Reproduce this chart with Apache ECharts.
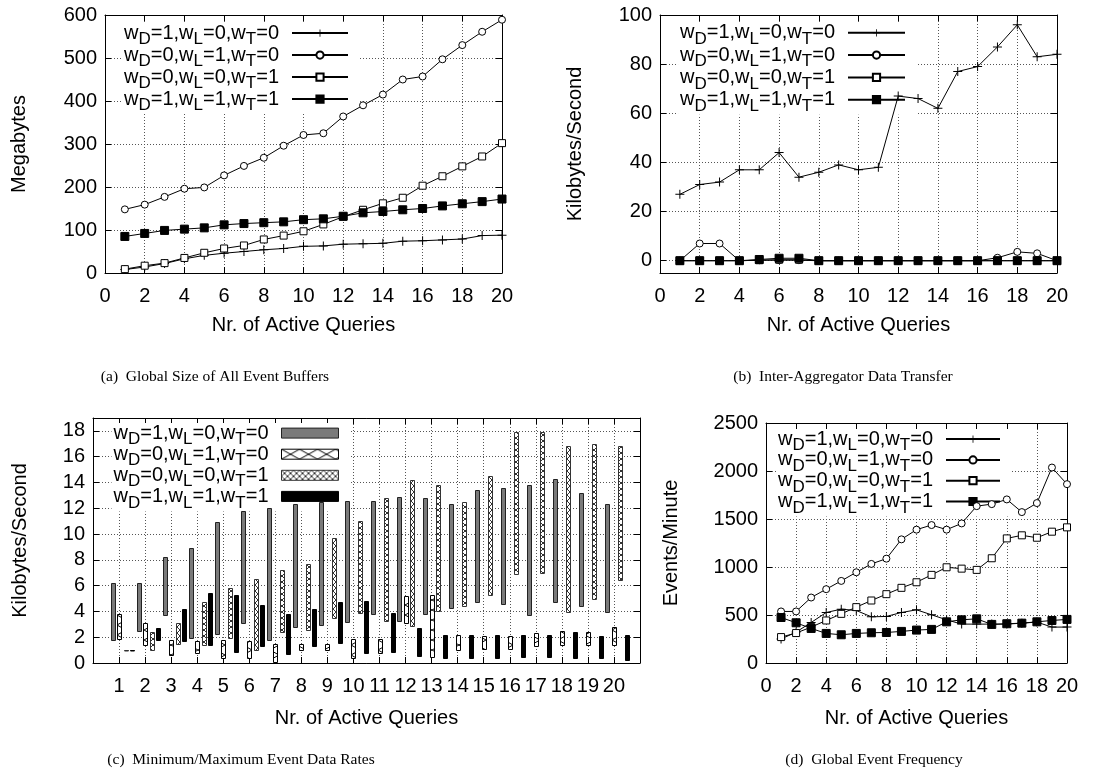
<!DOCTYPE html>
<html><head><meta charset="utf-8">
<script src="https://cdn.jsdelivr.net/npm/echarts@6/dist/echarts.min.js"></script>
<style>html,body{margin:0;padding:0;background:#fff}#c{width:1099px;height:774px}</style>
</head><body><div id="c"></div>
<script>
// ---------------- data ----------------
const queries = [1,2,3,4,5,6,7,8,9,10,11,12,13,14,15,16,17,18,19,20];
const legendWeights = [['1','0','0'],['0','1','0'],['0','0','1'],['1','1','1']];
const captions = ['(a)  Global Size of All Event Buffers','(b)  Inter-Aggregator Data Transfer','(c)  Minimum/Maximum Event Data Rates','(d)  Global Event Frequency'];
const yNames = ['Megabytes','Kilobytes/Second','Kilobytes/Second','Events/Minute'];
const xName = 'Nr. of Active Queries';
const xferTicks = [0,20,40,60,80,100];

// (a) Global size of all event buffers (MB)
const bufD  = [8,14,22,33,41,46,50,54,57,62,63,67,68,69,74,75,77,79,87,88];
const bufL  = [148,159,177,196,199,227,249,268,296,321,325,364,390,415,450,457,497,530,561,589];
const bufT  = [9,17,23,35,47,57,64,78,87,97,113,131,147,162,175,203,225,248,271,302];
const bufA  = [85,92,99,102,105,112,115,117,119,124,126,132,140,143,147,150,156,161,166,172];

// (b) Inter-aggregator data transfer (KB/s)
const xferD = [27,31,32,37,37,44,34,36,39,37,38,67,66,62,77,79,87,96,83,84];
const xferL = [0,7,7,0,0.2,0.2,0.2,0,0,0,0,0,0,0,0,0,1.2,3.6,3,0];
const xferT = [0,0,0,0,0.2,0.4,0.4,0,0,0,0,0,0,0,0,0,0,0,0,0];
const xferA = [0,0,0,0,0.5,1,1,0,0,0,0,0,0,0,0,0,0,0,0,0];

// (c) Min / max event data rates (KB/s)
const rateDmin = [1.8,2.5,3.7,1.9,2.2,3.1,1.8,2.8,3.0,3.2,3.8,3.3,3.8,4.2,4.7,4.6,3.7,4.8,4.4,3.9];
const rateDmax = [6.2,6.2,8.2,8.9,10.9,11.8,12.0,12.3,12.5,12.6,12.6,12.9,12.8,12.3,13.4,13.6,13.8,14.3,13.2,12.3];
const rateLmin = [1.9,1.4,0.6,0.8,0.4,0.4,0.1,1.0,1.0,0.4,0.8,3.1,0.5,1.0,1.1,1.1,1.3,1.4,1.4,1.4];
const rateLmax = [3.8,3.1,1.8,1.7,1.8,1.7,1.5,1.5,1.5,1.9,1.9,5.2,5.3,2.2,2.1,2.1,2.3,2.5,2.4,2.8];
const rateTmin = [1.0,1.0,1.5,1.4,1.9,1.0,2.4,2.6,3.5,3.9,3.3,2.9,4.0,4.4,5.3,6.9,7.0,3.9,5.0,6.4];
const rateTmax = [1.0,2.4,3.1,4.7,5.8,6.5,7.2,7.7,9.7,11.0,12.8,14.2,13.8,12.5,14.5,17.9,17.9,16.8,17.0,16.8];
const rateAmin = [1.0,1.8,1.7,1.4,0.9,1.3,0.7,1.3,1.5,0.8,0.9,0.5,0.4,0.4,0.4,0.5,0.5,0.4,0.4,0.3];
const rateAmax = [1.0,2.7,4.2,5.4,5.3,4.5,3.8,4.2,4.7,4.8,3.9,2.7,2.2,2.2,2.2,2.2,2.2,2.4,2.1,2.2];

// (d) Global event frequency (events/min)
const freqD = [249,322,422,526,561,547,481,485,526,554,502,450,405,405,405,405,415,426,374,374];
const freqL = [537,537,682,769,855,945,1032,1087,1288,1389,1437,1389,1454,1634,1655,1704,1572,1666,2036,1863];
const freqT = [270,312,374,443,512,582,651,717,783,841,918,997,983,970,1091,1298,1330,1305,1368,1413];
const freqA = [474,419,360,308,294,308,315,318,329,343,350,429,450,460,402,409,415,429,443,454];

// ---------------- styles ----------------
const SANS = 'Liberation Sans';
const SERIF = 'Liberation Serif';
const PLUS = 'path://M4,0H5V4H9V5H5V9H4V5H0V4H4Z';
const markerStyles = [
  {symbol: PLUS, symbolSize: 9, itemStyle: {color: '#000'}},
  {symbol: 'circle', symbolSize: 7, itemStyle: {color: '#fff', borderColor: '#000', borderWidth: 1}},
  {symbol: 'rect', symbolSize: 7, itemStyle: {color: '#fff', borderColor: '#000', borderWidth: 1}},
  {symbol: 'rect', symbolSize: 8, itemStyle: {color: '#000', borderColor: '#000', borderWidth: 1}}
];

function makePattern(kind) {
  const cv = document.createElement('canvas');
  if (kind === 'cross') { cv.width = 18; cv.height = 10; }
  else { cv.width = 6; cv.height = 6; }
  const ctx = cv.getContext('2d');
  ctx.fillStyle = '#fff'; ctx.fillRect(0, 0, cv.width, cv.height);
  ctx.strokeStyle = kind === 'cross' ? '#000' : '#333';
  ctx.lineWidth = 1;
  ctx.beginPath();
  ctx.moveTo(0, 0); ctx.lineTo(cv.width, cv.height);
  ctx.moveTo(cv.width, 0); ctx.lineTo(0, cv.height);
  ctx.stroke();
  return {image: cv, repeat: 'repeat'};
}
const barFills = ['#7a7a7a', makePattern('cross'), makePattern('check'), '#000'];
const barStrokes = ['#222', '#000', '#333', '#000'];
const barOffsets = [-6.5, 0, 6.5, 13];

function legendText(i) {
  const v = legendWeights[i];
  return '{m|w}{s|D}{m|=' + v[0] + ',w}{s|L}{m|=' + v[1] + ',w}{s|T}{e|=' + v[2] + '}';
}
const legendRich = {
  m: {fontFamily: SANS, fontSize: 20, lineHeight: 20, color: '#000', verticalAlign: 'middle'},
  e: {fontFamily: SANS, fontSize: 20, lineHeight: 20, color: '#000', verticalAlign: 'middle', padding: [0, 8, 0, 0]},
  s: {fontFamily: SANS, fontSize: 17, lineHeight: 17, color: '#000', verticalAlign: 'top', padding: [8, 0, 0, 0]}
};

const gridDefs = [
  {left: 105, top: 15, width: 397, height: 258},
  {left: 660, top: 15, width: 397, height: 258},
  {left: 93, top: 418, width: 547, height: 245},
  {left: 766, top: 423, width: 301, height: 240}
];
const xRanges = [[0,20,2],[0,20,2],[0,21,1],[0,20,2]];
const yRanges = [[0,600,100],[-5,100,20],[0,19,2],[0,2500,500]];
const yNameGaps = [76, 75, 63, 85];
const xNameGaps = [42, 42, 45, 45];

const splitStyle = {show: true, lineStyle: {color: '#555', type: [1, 2], width: 1}};
const tickStyle = {show: true, inside: true, length: 6, lineStyle: {color: '#000', width: 1}};
const lineAxis = {show: true, onZero: false, lineStyle: {color: '#000', width: 1}};
const labelFont = {fontFamily: SANS, fontSize: 20, color: '#000'};

const xAxis = [], yAxis = [];
gridDefs.forEach((g, i) => {
  const [x0, x1, xi] = xRanges[i];
  const [y0, y1, yi] = yRanges[i];
  xAxis.push({
    gridIndex: i, type: 'value', position: 'bottom', min: x0, max: x1, interval: xi,
    axisLine: lineAxis, axisTick: tickStyle, splitLine: splitStyle,
    axisLabel: Object.assign({margin: 13, showMinLabel: i !== 2, showMaxLabel: i !== 2}, labelFont),
    name: xName, nameLocation: 'middle', nameGap: xNameGaps[i], nameTextStyle: labelFont
  });
  xAxis.push({
    gridIndex: i, type: 'value', position: 'top', min: x0, max: x1, interval: xi,
    axisLine: lineAxis, axisTick: tickStyle, splitLine: {show: false}, axisLabel: {show: false}
  });
  const custom = i === 1;
  const yTick = custom ? Object.assign({customValues: xferTicks}, tickStyle) : tickStyle;
  const yLab = Object.assign({margin: 8, showMaxLabel: i !== 2, formatter: v => String(v)}, labelFont);
  if (custom) yLab.customValues = xferTicks;
  const yMain = {
    gridIndex: i, type: 'value', position: 'left', min: y0, max: y1,
    axisLine: lineAxis, axisTick: yTick, splitLine: splitStyle, axisLabel: yLab,
    name: yNames[i], nameLocation: 'middle', nameGap: yNameGaps[i], nameTextStyle: labelFont
  };
  const yMirror = {
    gridIndex: i, type: 'value', position: 'right', min: y0, max: y1,
    axisLine: lineAxis, axisTick: yTick, splitLine: {show: false}, axisLabel: {show: false}
  };
  if (!custom) { yMain.interval = yi; yMirror.interval = yi; }
  yAxis.push(yMain, yMirror);
});

const series = [];
const lineSets = [[bufD, bufL, bufT, bufA], [xferD, xferL, xferT, xferA], null, [freqD, freqL, freqT, freqA]];
const panelKeys = ['a', 'b', 'c', 'd'];
[0, 1, 3].forEach(p => {
  lineSets[p].forEach((vals, k) => {
    const m = markerStyles[k];
    series.push({
      type: 'line', name: panelKeys[p] + k, xAxisIndex: p * 2, yAxisIndex: p * 2,
      data: queries.map((q, j) => [q, vals[j]]),
      symbol: m.symbol, symbolSize: m.symbolSize, showSymbol: true,
      itemStyle: m.itemStyle, lineStyle: {color: '#000', width: 1},
      animation: false, z: 2 + k
    });
  });
});

const rateSets = [[rateDmin, rateDmax], [rateLmin, rateLmax], [rateTmin, rateTmax], [rateAmin, rateAmax]];
rateSets.forEach((mm, k) => {
  const off = barOffsets[k], fill = barFills[k], stroke = barStrokes[k];
  series.push({
    type: 'custom', name: 'c' + k, xAxisIndex: 4, yAxisIndex: 4,
    data: queries.map((q, j) => [q, mm[0][j], mm[1][j]]),
    encode: {x: 0, y: [1, 2]},
    itemStyle: {color: fill, borderColor: stroke, borderWidth: 1},
    animation: false,
    renderItem: function (params, api) {
      const top = api.coord([api.value(0), api.value(2)]);
      const bot = api.coord([api.value(0), api.value(1)]);
      const cx = Math.round(top[0] + off);
      return {
        type: 'rect',
        shape: {x: cx - 2 + 0.5, y: Math.round(top[1]) + 0.5, width: 4, height: Math.max(Math.round(bot[1] - top[1]), 0.5)},
        style: {fill: fill, stroke: stroke, lineWidth: 1}
      };
    }
  });
});

function legendFor(p, right, top, gap, iw, ih, rect) {
  return {
    orient: 'vertical', align: 'right', right: right, top: top, itemGap: gap,
    itemWidth: iw, itemHeight: ih, padding: [0, 11, 0, 2], backgroundColor: '#fff',
    selectedMode: false, z: 1,
    data: [0, 1, 2, 3].map(k => rect
      ? {name: panelKeys[p] + k, icon: 'rect', itemStyle: {color: barFills[k], borderColor: barStrokes[k], borderWidth: 1}}
      : {name: panelKeys[p] + k}),
    formatter: name => legendText(+name.slice(1)),
    textStyle: {color: '#000', fontFamily: SANS, fontSize: 20, rich: legendRich}
  };
}
const legend = [
  legendFor(0, 739, 23.1, -3, 56, 9, false),
  legendFor(1, 182, 22.8, -2.7, 57, 9, false),
  legendFor(2, 749, 423.1, -3.9, 57, 10, true),
  legendFor(3, 87, 429.1, -4.2, 54, 9, false)
];

const capPos = [[215, 377], [843, 377], [241, 760], [874, 760]];
const graphic = captions.map((t, i) => ({
  type: 'text', x: capPos[i][0], y: capPos[i][1], silent: true,
  style: {text: t, font: '15.5px "' + SERIF + '"', fill: '#000', align: 'center', verticalAlign: 'middle'}
}));

const chart = echarts.init(document.getElementById('c'), null, {renderer: 'canvas'});
chart.setOption({
  animation: false,
  backgroundColor: '#fff',
  grid: gridDefs.map(g => Object.assign({show: false, containLabel: false}, g)),
  xAxis: xAxis, yAxis: yAxis, legend: legend, series: series, graphic: graphic
});
</script></body></html>
